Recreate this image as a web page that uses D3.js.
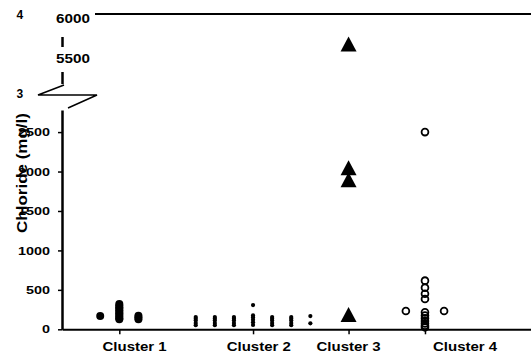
<!DOCTYPE html>
<html lang="en">
<head>
<meta charset="UTF-8" />
<title>Chloride by cluster</title>
<script src="https://d3js.org/d3.v7.min.js"></script>
<style>
  body { margin: 0; background: #fff; }
  text { font-family: "Liberation Sans", Arial, sans-serif; font-weight: bold; fill: #000; }
</style>
</head>
<body>
<div id="chart"></div>
<script>
// categories and tick values
const categories = ["Cluster 1", "Cluster 2", "Cluster 3", "Cluster 4"];
const categoryTicks = [3, 10, 15, 19];
const categoryLabelPos = [3.8, 10.3, 15, 21.1];
const lowerTicks = [0, 500, 1000, 1500, 2000, 2500];
const upperTicks = [5500, 6000];

// points as [x position, chloride mg/l]
const cluster1 = [
  [2, 168],
  [3, 320], [3, 300], [3, 280], [3, 260], [3, 240], [3, 220], [3, 200], [3, 180], [3, 160], [3, 140], [3, 127],
  [4, 172], [4, 150], [4, 127]
];
const cluster2 = [
  [7, 156], [7, 135], [7, 110], [7, 80], [7, 52],
  [8, 156], [8, 135], [8, 110], [8, 80], [8, 52],
  [9, 156], [9, 135], [9, 110], [9, 80], [9, 52],
  [10, 307], [10, 176], [10, 150], [10, 120], [10, 90], [10, 55],
  [11, 156], [11, 135], [11, 110], [11, 80], [11, 52],
  [12, 156], [12, 135], [12, 110], [12, 80], [12, 52],
  [13, 168], [13, 76]
];
const cluster3 = [[15, 5625], [15, 2048], [15, 1896], [15, 187]];
const cluster4 = [
  [19, 2500], [19, 617], [19, 528], [19, 450], [19, 385],
  [18, 232], [20, 232],
  [19, 215], [19, 175], [19, 140], [19, 105], [19, 75], [19, 45], [19, 25]
];

const W = 531, H = 354;
const svg = d3.select("#chart").append("svg").attr("width", W).attr("height", H);
svg.append("rect").attr("width", W).attr("height", H).attr("fill", "#fff");

const x = d3.scaleLinear().domain([0, 24.55]).range([62, 531]);
const yLow = d3.scaleLinear().domain([0, 2780]).range([329.3, 110]);
const yTop = d3.scaleLinear().domain([5130, 6000]).range([83.6, 14]);
const yOf = v => (v > 3000 ? yTop(v) : yLow(v));

// lower y axis
const gy = svg.append("g").attr("transform", "translate(62,0)")
  .call(d3.axisLeft(yLow).tickValues(lowerTicks).tickSize(4).tickSizeOuter(0).tickFormat(""));
gy.select(".domain").attr("stroke-width", 2.5);
gy.selectAll(".tick line").attr("stroke-width", 1.5);
lowerTicks.forEach(t => {
  svg.append("text")
    .attr("transform", "translate(50," + yLow(t) + ") scale(1.25,1)")
    .attr("text-anchor", "end").attr("dy", "0.36em")
    .style("font-size", "11.5px").text(t);
});

// upper y segment and frame line
const gt = svg.append("g").attr("transform", "translate(62,0)")
  .call(d3.axisLeft(yTop).tickValues([]).tickSizeOuter(0));
gt.select(".domain").attr("stroke-width", 2.5);
svg.append("line")
  .attr("x1", 62).attr("x2", W)
  .attr("y1", yTop(6000)).attr("y2", yTop(6000))
  .attr("stroke", "#000").attr("stroke-width", 2);
// label boxes covering the axis behind the upper labels
svg.append("rect").attr("x", 48).attr("y", 0).attr("width", 47).attr("height", 37).attr("fill", "#fff");
svg.append("rect").attr("x", 48).attr("y", 47).attr("width", 47).attr("height", 25).attr("fill", "#fff");
upperTicks.forEach(t => {
  svg.append("text")
    .attr("transform", "translate(73," + (yTop(t) + 4) + ") scale(1.13,1)")
    .attr("text-anchor", "middle").attr("dy", "0.36em")
    .style("font-size", "13.5px").text(t);
});

// axis break
svg.append("path")
  .attr("d", "M64,85 L38,95 L97,95 L68,108")
  .attr("fill", "none").attr("stroke", "#000").attr("stroke-width", 1.5);
svg.append("text").attr("x", 16.5).attr("y", 18.5).style("font-size", "12px").text("4");
svg.append("text").attr("x", 16.5).attr("y", 97.5).style("font-size", "12px").text("3");

// x axis
const gx = svg.append("g").attr("transform", "translate(0," + yLow(0) + ")")
  .call(d3.axisBottom(x).tickValues(categoryTicks).tickSize(5).tickSizeOuter(0).tickFormat(""));
gx.select(".domain").attr("stroke-width", 2);
gx.selectAll(".tick line").attr("stroke-width", 1.5);
categories.forEach((c, i) => {
  svg.append("text")
    .attr("transform", "translate(" + x(categoryLabelPos[i]) + ",350.5) scale(1.2,1)")
    .attr("text-anchor", "middle")
    .style("font-size", "12.5px").text(c);
});

// y title
svg.append("text")
  .attr("transform", "translate(27,173) rotate(-90)")
  .attr("text-anchor", "middle")
  .attr("textLength", 120).attr("lengthAdjust", "spacingAndGlyphs")
  .style("font-size", "14.5px").text("Chloride (mg/l)");

// marks
svg.append("g").selectAll("circle").data(cluster1).join("circle")
  .attr("cx", d => x(d[0])).attr("cy", d => yOf(d[1])).attr("r", 4).attr("fill", "#000");
svg.append("g").selectAll("circle").data(cluster2).join("circle")
  .attr("cx", d => x(d[0])).attr("cy", d => yOf(d[1])).attr("r", 2.1).attr("fill", "#000");
svg.append("g").selectAll("path").data(cluster3).join("path")
  .attr("transform", d => "translate(" + x(d[0]) + "," + yOf(d[1]) + ")")
  .attr("d", "M0,-7.5 L8,7.5 L-8,7.5 Z").attr("fill", "#000");
svg.append("g").selectAll("circle").data(cluster4).join("circle")
  .attr("cx", d => x(d[0])).attr("cy", d => yOf(d[1])).attr("r", 3.4)
  .attr("fill", "none").attr("stroke", "#000").attr("stroke-width", 1.8);
</script>
</body>
</html>
